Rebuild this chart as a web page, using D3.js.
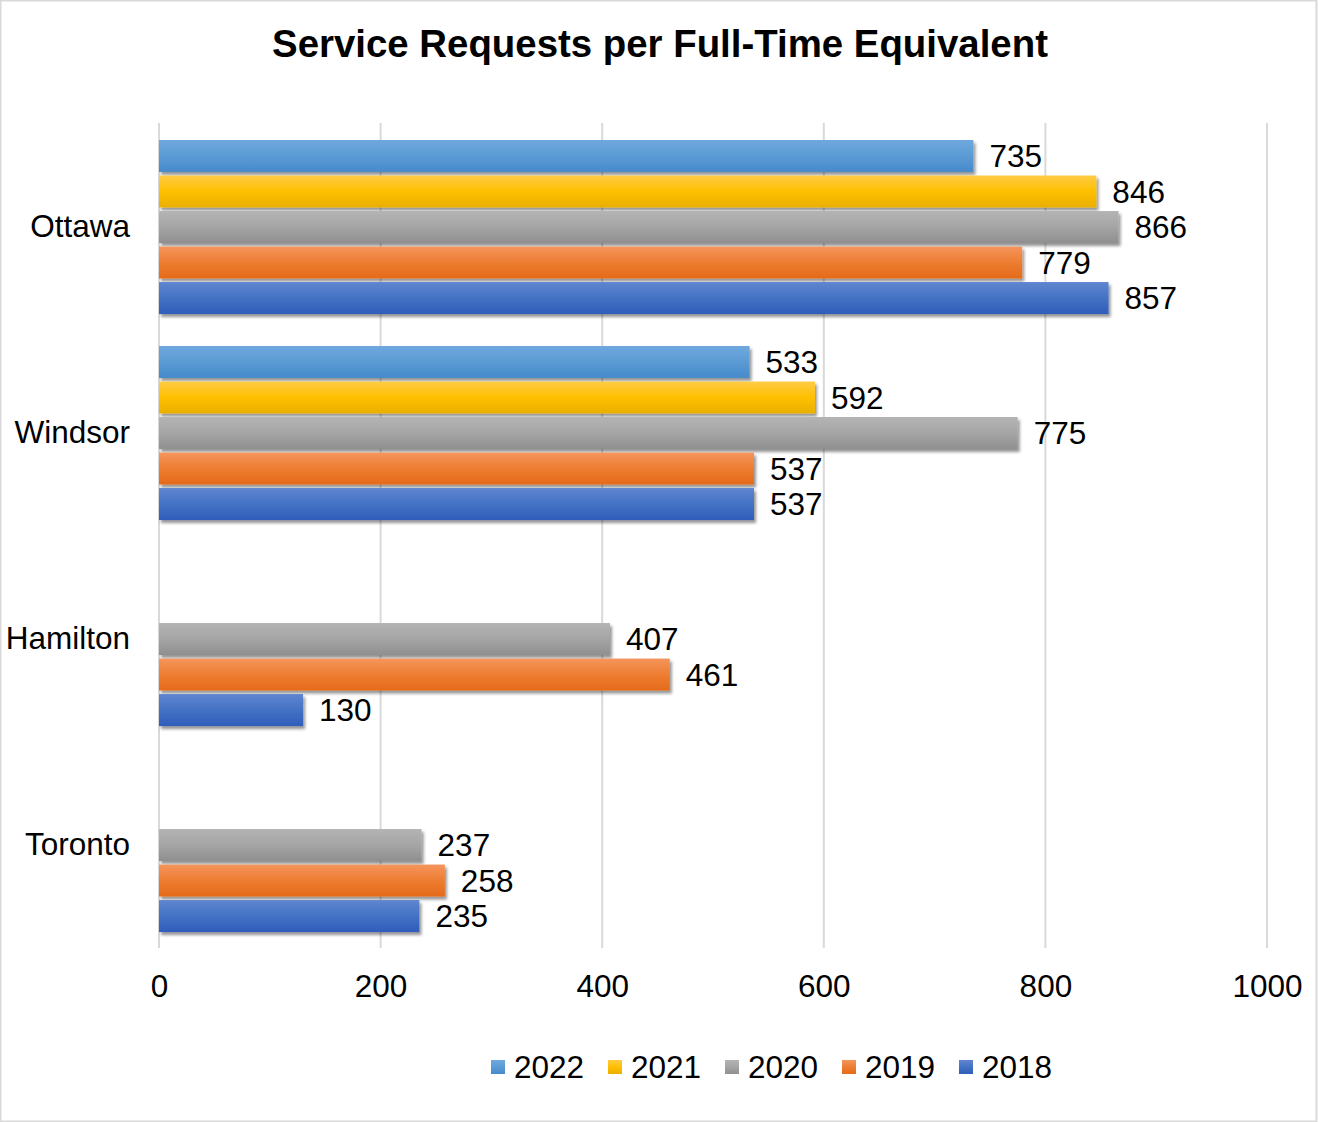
<!DOCTYPE html>
<html>
<head>
<meta charset="utf-8">
<script src="https://cdn.jsdelivr.net/npm/d3@7"></script>
<style>
  html, body { margin: 0; padding: 0; background: #fff; }
  svg { display: block; font-family: Arial, "Liberation Sans", sans-serif; }
</style>
</head>
<body>
<svg id="chart" width="1319" height="1122"></svg>
<script>
// Cities, top to bottom
const cities = ["Ottawa", "Windsor", "Hamilton", "Toronto"];
// Years, in bar order within each city
const years = ["2022", "2021", "2020", "2019", "2018"];
// Service requests per FTE, one array per year (null = not reported)
const v2022 = [735, 533, null, null];
const v2021 = [846, 592, null, null];
const v2020 = [866, 775, 407, 237];
const v2019 = [779, 537, 461, 258];
const v2018 = [857, 537, 130, 235];
const xTicks = [0, 200, 400, 600, 800, 1000];

const seriesValues = { "2022": v2022, "2021": v2021, "2020": v2020, "2019": v2019, "2018": v2018 };

// top / middle / bottom shades of each bar's vertical gradient
const shades = {
  "2022": ["#6fa8de", "#5b9bd5", "#468acb"],
  "2021": ["#ffcb45", "#ffc000", "#e9af00"],
  "2020": ["#b4b4b4", "#a5a5a5", "#8f8f8f"],
  "2019": ["#f5955d", "#ed7d31", "#e56a1a"],
  "2018": ["#5f85d0", "#4472c4", "#2f5dbb"]
};

const FS = 31.5; // body text size

const svg = d3.select("#chart");
const W = 1319, H = 1122;

// outer frame
svg.append("rect")
  .attr("x", 0.5).attr("y", 0.5).attr("width", W - 3).attr("height", H - 1)
  .attr("fill", "#fff").attr("stroke", "#d9d9d9").attr("stroke-width", 2);

const defs = svg.append("defs");
years.forEach(y => {
  const g = defs.append("linearGradient").attr("id", "grad" + y)
    .attr("x1", 0).attr("y1", 0).attr("x2", 0).attr("y2", 1);
  g.append("stop").attr("offset", "0%").attr("stop-color", shades[y][0]);
  g.append("stop").attr("offset", "50%").attr("stop-color", shades[y][1]);
  g.append("stop").attr("offset", "100%").attr("stop-color", shades[y][2]);
});
const shadow = defs.append("filter").attr("id", "barShadow")
  .attr("x", "-5%").attr("y", "-20%").attr("width", "115%").attr("height", "160%");
shadow.append("feDropShadow")
  .attr("dx", 2).attr("dy", 3).attr("stdDeviation", 1.4)
  .attr("flood-color", "#000").attr("flood-opacity", 0.42);

// scales
const x = d3.scaleLinear().domain([0, 1000]).range([159, 1267]);
const y0 = d3.scaleBand().domain(cities).range([124, 948]).paddingInner(0).paddingOuter(0);
const y1 = d3.scaleBand().domain(years).range([0, y0.bandwidth()])
  .paddingInner(0.1).paddingOuter(0.45);

// title
svg.append("text")
  .attr("x", 660).attr("y", 57)
  .attr("text-anchor", "middle")
  .attr("font-size", 38.4).attr("font-weight", "bold").attr("fill", "#000")
  .text("Service Requests per Full-Time Equivalent");

// vertical gridlines
svg.append("g").selectAll("line").data(xTicks).join("line")
  .attr("x1", d => x(d)).attr("x2", d => x(d))
  .attr("y1", 123).attr("y2", 948)
  .attr("stroke", "#d9d9d9").attr("stroke-width", 2);

// x axis labels
const xAxis = d3.axisBottom(x).tickValues(xTicks).tickSize(0).tickPadding(0).tickFormat(d3.format("d"));
const xg = svg.append("g").attr("transform", "translate(0,975)").call(xAxis);
xg.select(".domain").remove();
xg.selectAll("text").attr("font-size", FS).attr("fill", "#000")
  .attr("font-family", "Arial, 'Liberation Sans', sans-serif").attr("dy", "0.71em");

// category labels
const yAxis = d3.axisLeft(y0).tickSize(0).tickPadding(0);
const yg = svg.append("g").attr("transform", "translate(130,0)").call(yAxis);
yg.select(".domain").remove();
yg.selectAll("text").attr("font-size", FS).attr("fill", "#000")
  .attr("font-family", "Arial, 'Liberation Sans', sans-serif");

// bars and value labels
const rows = [];
cities.forEach((c, i) => years.forEach(yr => {
  const v = seriesValues[yr][i];
  if (v != null) rows.push({ city: c, year: yr, value: v });
}));

const bars = svg.append("g");
bars.selectAll("rect").data(rows).join("rect")
  .attr("x", x(0))
  .attr("y", d => y0(d.city) + y1(d.year))
  .attr("width", d => x(d.value) - x(0))
  .attr("height", y1.bandwidth())
  .attr("fill", d => `url(#grad${d.year})`)
  .attr("filter", "url(#barShadow)");

svg.append("g").selectAll("text").data(rows).join("text")
  .attr("x", d => x(d.value) + 16)
  .attr("y", d => y0(d.city) + y1(d.year) + y1.bandwidth() / 2)
  .attr("dy", "0.36em")
  .attr("font-size", FS).attr("fill", "#000")
  .text(d => d.value);

// legend
const legend = svg.append("g").attr("transform", "translate(491,1060)");
const item = legend.selectAll("g").data(years).join("g")
  .attr("transform", (d, i) => `translate(${i * 117},0)`);
item.append("rect").attr("width", 14).attr("height", 14)
  .attr("fill", d => `url(#grad${d})`);
item.append("text").attr("x", 23).attr("y", 7).attr("dy", "0.36em")
  .attr("font-size", FS).attr("fill", "#000").text(d => d);
</script>
</body>
</html>
